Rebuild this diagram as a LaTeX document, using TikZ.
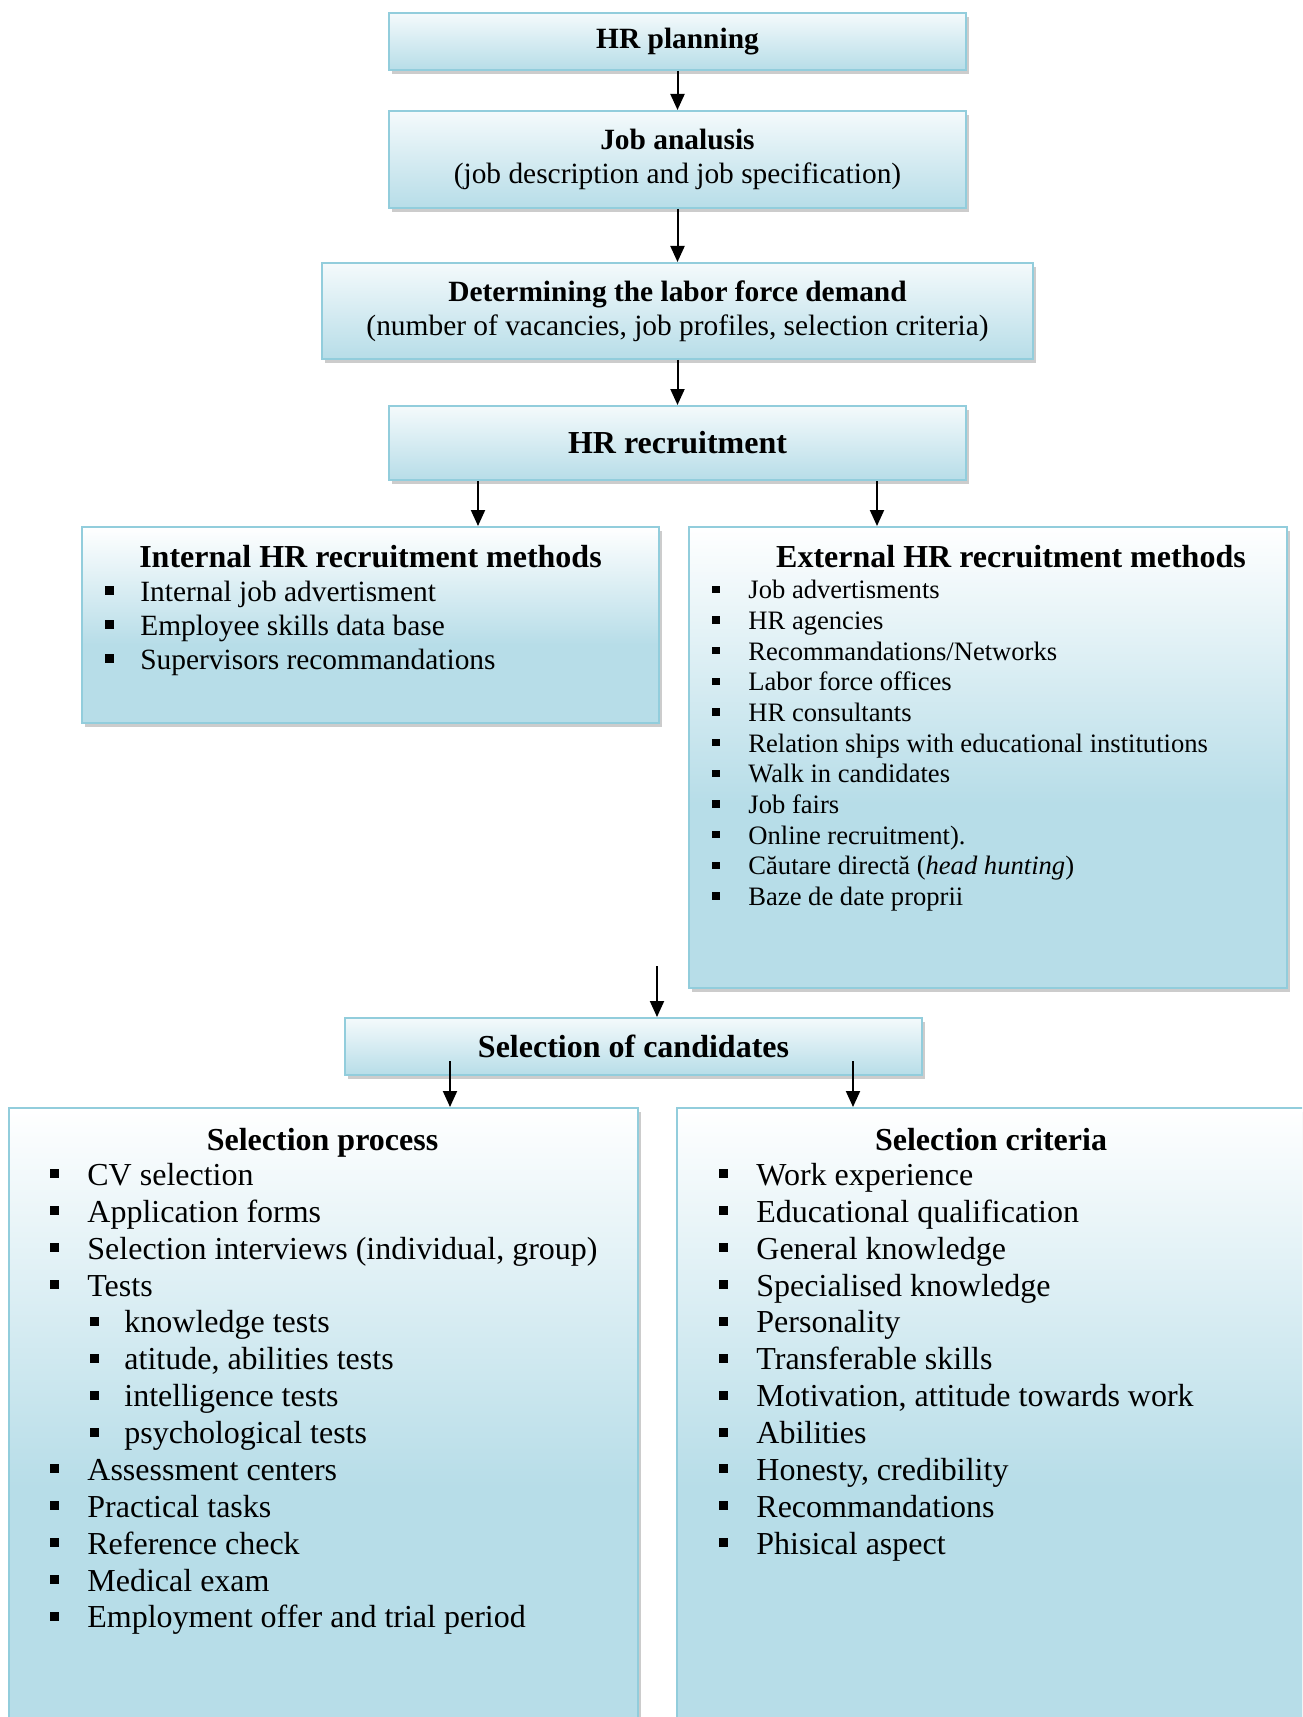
\documentclass[tikz,border=0pt]{standalone}
\usepackage{fontspec}
\setmainfont{Liberation Serif}
\usepackage{xcolor}
\usetikzlibrary{arrows.meta,shadows}
\definecolor{hrblue}{RGB}{183,221,232}
\definecolor{hrline}{RGB}{146,205,220}
\pgfdeclareverticalshading{hrshade}{100bp}{color(0bp)=(hrblue); color(45bp)=(hrblue); color(75bp)=(white); color(100bp)=(white)}
\newcommand\hrbig{\fontsize{16}{18.45}\selectfont}
\newcommand\hrmid{\fontsize{14.7}{17}\selectfont}
\newcommand\hrsmall{\fontsize{13.3}{15.3}\selectfont}
\tikzset{
  flowbox/.style={draw=hrline, line width=1pt, top color=hrblue!15, bottom color=hrblue,
    drop shadow={shadow xshift=1.5pt, shadow yshift=-2pt, fill=gray!80, opacity=0.5},
    align=center, inner sep=0pt, minimum width=288.5pt},
  listbox/.style={draw=hrline, line width=1pt, shading=hrshade,
    drop shadow={shadow xshift=1.5pt, shadow yshift=-2pt, fill=gray!80, opacity=0.5}, inner sep=0pt},
  flow/.style={-{Triangle[length=8pt,width=7pt]}, line width=1pt},
  item/.style={anchor=base west, inner sep=0pt}
}
\begin{document}
\begin{tikzpicture}[x=0.5pt,y=-0.5pt]
\clip (0,0) rectangle (1302,1717);
\node[flowbox, minimum height=28.5pt, font=\hrmid\bfseries] (plan) at (677.5,41.5) {HR planning};
\node[flowbox, minimum height=48.5pt, font=\hrmid] (job) at (677.5,159.5) {\textbf{Job analusis}\\(job description and job specification)};
\node[flowbox, minimum width=355.5pt, minimum height=48pt, font=\hrmid] (demand) at (677.5,311) {\textbf{Determining the labor force demand}\\(number of vacancies, job profiles, selection criteria)};
\node[flowbox, minimum height=37pt, font=\hrbig\bfseries] (rec) at (677.5,443) {HR recruitment};
\node[listbox, minimum width=288.5pt, minimum height=98pt] (inter) at (370.5,625) {};
\node[listbox, minimum width=299pt, minimum height=230.5pt] (exter) at (988,757.5) {};
\node[flowbox, minimum height=28.5pt, font=\hrbig\bfseries] (sel) at (633.5,1046.5) {Selection of candidates};
\node[listbox, minimum width=314.5pt, minimum height=316pt] (sproc) at (323.5,1424) {};
\node[listbox, minimum width=321.5pt, minimum height=316pt] (scrit) at (998.5,1424) {};
\node[font=\hrbig\bfseries, anchor=base] (intitle) at (370.5,567.5) {Internal HR recruitment methods};
\node[font=\hrbig\bfseries, anchor=base] (extitle) at (1011,567.5) {External HR recruitment methods};
\node[font=\hrbig\bfseries, anchor=base] (prtitle) at (322.5,1150.5) {Selection process};
\node[font=\hrbig\bfseries, anchor=base] (crtitle) at (991,1150.5) {Selection criteria};
\foreach \t [count=\i] in {Internal job advertisment, Employee skills data base, Supervisors recommandations}{
  \node[item, font=\hrmid] (in\i) at (140,567+34*\i) {\t};
  \fill (105,567+34*\i-15) rectangle ++(8.5,8.5);
}
\foreach \t [count=\i] in {Job advertisments, HR agencies, Recommandations/Networks, Labor force offices, HR consultants, Relation ships with educational institutions, Walk in candidates, Job fairs, Online recruitment)., Căutare directă (\textit{head hunting}), Baze de date proprii}{
  \node[item, font=\hrsmall] (ex\i) at (748,568.3+30.66*\i) {\t};
  \fill (712,568.3+30.66*\i-13.4) rectangle ++(7.5,7.5);
}
\foreach \l/\t [count=\i] in {0/CV selection, 0/Application forms, {0/Selection interviews (individual, group)}, 0/Tests, 1/knowledge tests, {1/atitude, abilities tests}, 1/intelligence tests, 1/psychological tests, 0/Assessment centers, 0/Practical tasks, 0/Reference check, 0/Medical exam, 0/Employment offer and trial period}{
  \node[item, font=\hrbig] (pr\i) at (87+37*\l,1148.6+36.87*\i) {\t};
  \fill (50+40*\l,1148.6+36.87*\i-16) rectangle ++(9,9);
}
\foreach \t [count=\i] in {Work experience, Educational qualification, General knowledge, Specialised knowledge, Personality, Transferable skills, {Motivation, attitude towards work}, Abilities, {Honesty, credibility}, Recommandations, Phisical aspect}{
  \node[item, font=\hrbig] (cr\i) at (756,1148.6+36.87*\i) {\t};
  \fill (719,1148.6+36.87*\i-16) rectangle ++(9,9);
}
\draw[flow] (plan.south) -- (job.north);
\draw[flow] (job.south) -- (demand.north);
\draw[flow] (demand.south) -- (rec.north);
\coordinate (r1) at ([xshift=45pt]rec.south west);
\coordinate (r2) at ([xshift=-45pt]rec.south east);
\draw[flow] (r1) -- (r1 |- inter.north);
\draw[flow] (r2) -- (r2 |- exter.north);
\coordinate (gap) at (657,966);
\draw[flow] (gap) -- (gap |- sel.north);
\coordinate (s1) at ([xshift=53pt,yshift=7.5pt]sel.south west);
\coordinate (s2) at ([xshift=-35pt,yshift=7.5pt]sel.south east);
\draw[flow] (s1) -- (s1 |- sproc.north);
\draw[flow] (s2) -- (s2 |- scrit.north);
\end{tikzpicture}
\end{document}
